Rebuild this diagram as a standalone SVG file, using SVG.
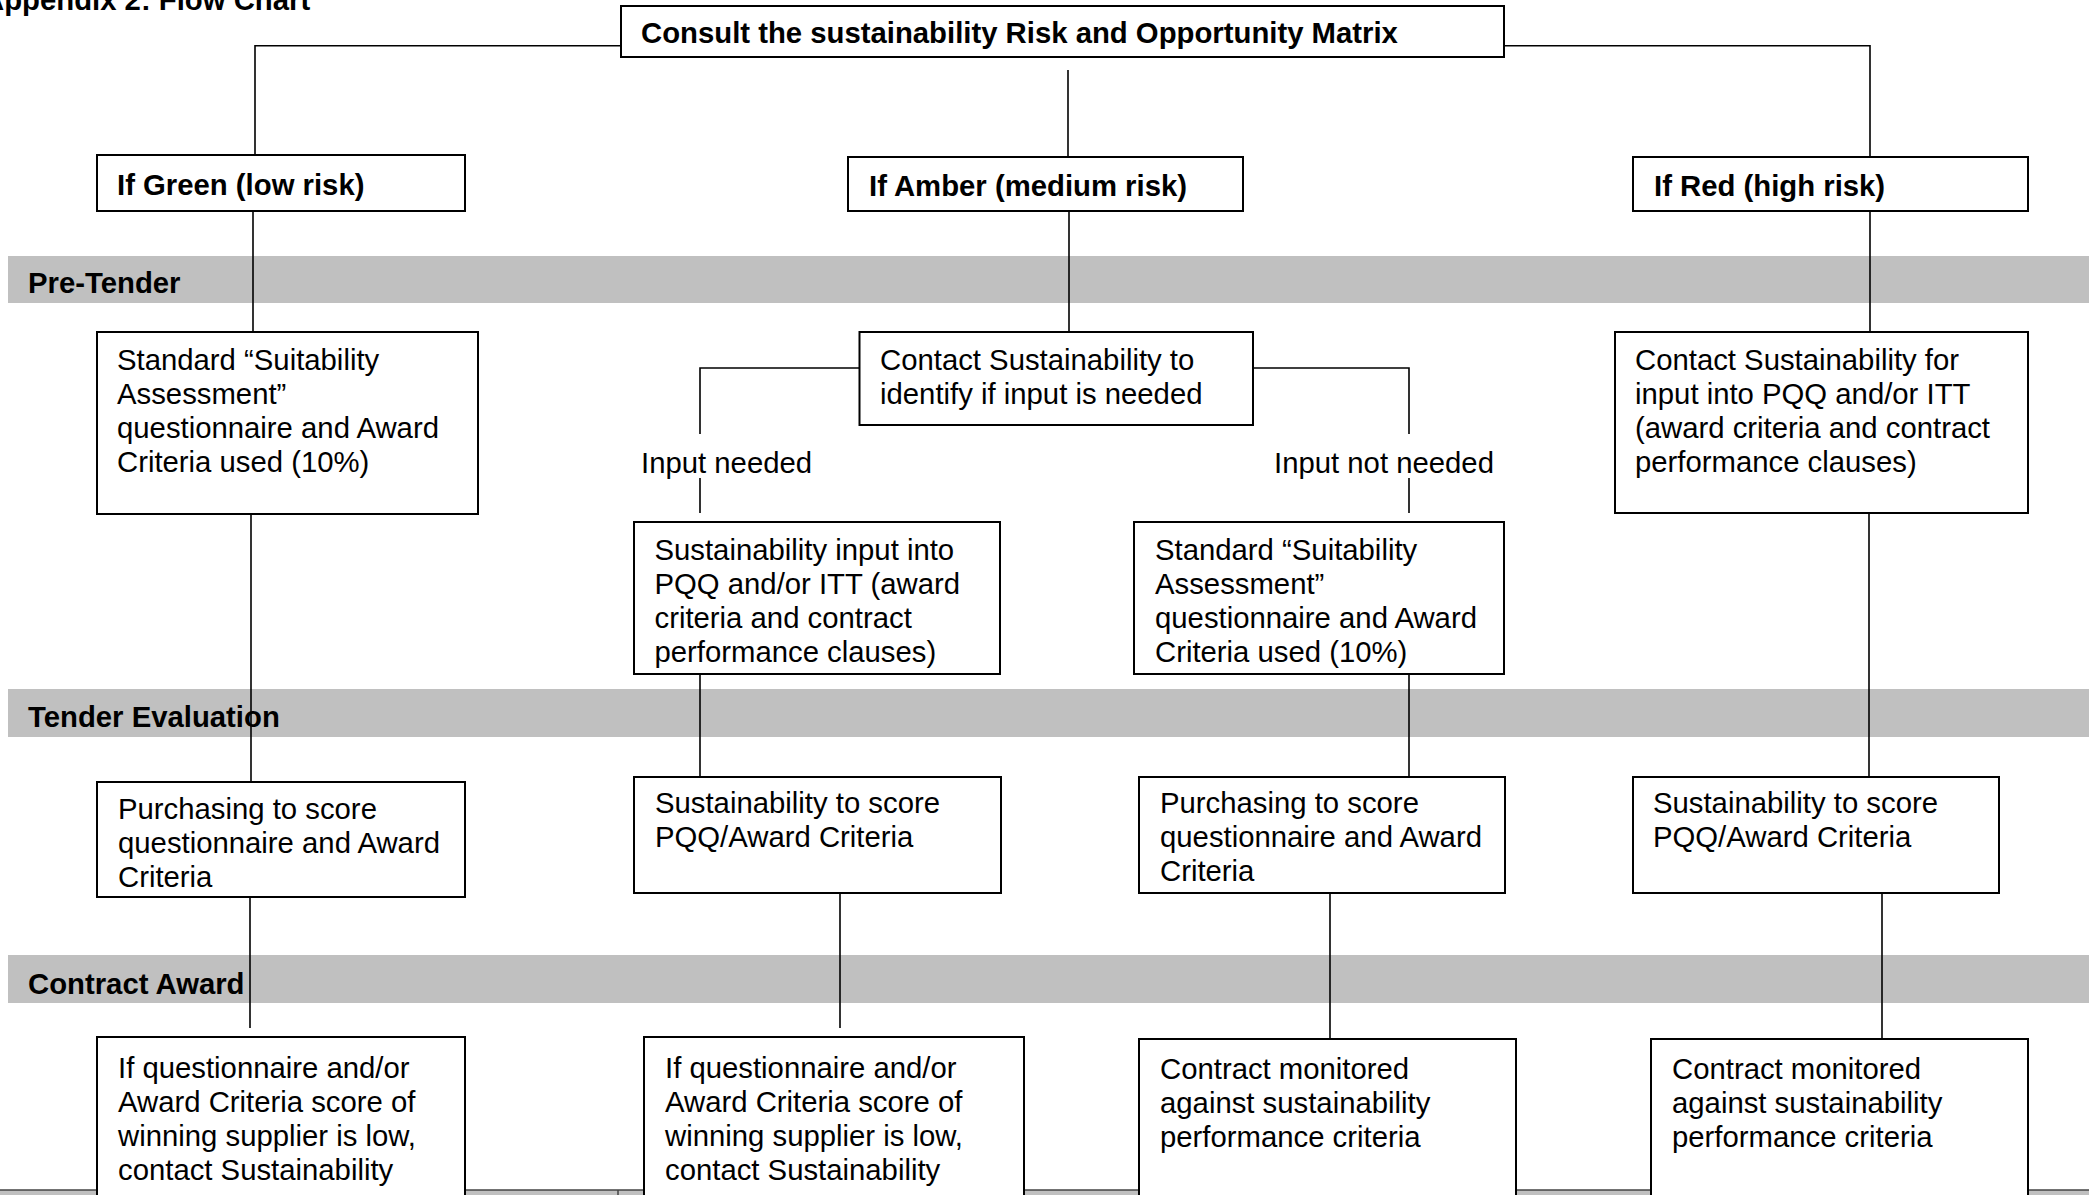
<svg xmlns="http://www.w3.org/2000/svg" width="2089" height="1195" viewBox="0 0 2089 1195">
<style>
text{font-family:"Liberation Sans",Arial,sans-serif;font-size:29.3px;fill:#000}
.b{font-weight:bold}
.box{fill:#fff;stroke:#000;stroke-width:2}
.band{fill:#c0c0c0}
.c{fill:none;stroke:#000;stroke-width:1.6}
</style>
<rect width="2089" height="1195" fill="#fff"/>
<g id="bands">
<rect class="band" x="8" y="256" width="2081" height="47"/>
<text class="b" x="28" y="293">Pre-Tender</text>
<rect class="band" x="8" y="689" width="2081" height="48"/>
<text class="b" x="28" y="727">Tender Evaluation</text>
<rect class="band" x="8" y="955" width="2081" height="48"/>
<text class="b" x="28" y="994">Contract Award</text>
<rect class="band" x="0" y="1190" width="2089" height="5"/>
<line x1="0" y1="1190" x2="2089" y2="1190" stroke="#444" stroke-width="1.5"/>
<line x1="618" y1="1190" x2="618" y2="1195" stroke="#444" stroke-width="1.5"/>
</g>
<text id="title" class="b" x="-17" y="10">Appendix 2: Flow Chart</text>
<g id="connectors">
<path class="c" d="M621,45.7 H255 V155"/>
<path class="c" d="M1068,70 V166"/>
<path class="c" d="M1504,45.7 H1870 V157"/>
<path class="c" d="M253,211 V332"/>
<path class="c" d="M1069,211 V332"/>
<path class="c" d="M1870,211 V332"/>
<path class="c" d="M859.5,368 H700 V434 M700,478 V513"/>
<path class="c" d="M1253,368 H1409 V434 M1409,478 V513"/>
<path class="c" d="M251,514 V782"/>
<path class="c" d="M700,674 V777"/>
<path class="c" d="M1409,674 V777"/>
<path class="c" d="M1869,513 V781"/>
<path class="c" d="M250,897 V1028"/>
<path class="c" d="M840,893 V1028"/>
<path class="c" d="M1330,893 V1038"/>
<path class="c" d="M1882,893 V1038"/>
<text x="641" y="473">Input needed</text>
<text x="1274" y="473">Input not needed</text>
</g>
<g id="consult">
<rect class="box" x="621" y="6" width="883" height="51"/>
<text class="b" x="641" y="43">Consult the sustainability Risk and Opportunity Matrix</text>
</g>
<g id="green">
<rect class="box" x="97" y="155" width="368" height="56"/>
<text class="b" x="117" y="195">If Green (low risk)</text>
</g>
<g id="amber">
<rect class="box" x="848" y="157" width="395" height="54"/>
<text class="b" x="869" y="196">If Amber (medium risk)</text>
</g>
<g id="red">
<rect class="box" x="1633" y="157" width="395" height="54"/>
<text class="b" x="1654" y="196">If Red (high risk)</text>
</g>
<g id="standard1">
<rect class="box" x="97" y="332" width="381" height="182"/>
<text x="117" y="370">Standard “Suitability</text>
<text x="117" y="404">Assessment”</text>
<text x="117" y="438">questionnaire and Award</text>
<text x="117" y="472">Criteria used (10%)</text>
</g>
<g id="contact">
<rect class="box" x="859.5" y="332" width="393.5" height="93"/>
<text x="880" y="370">Contact Sustainability to</text>
<text x="880" y="404">identify if input is needed</text>
</g>
<g id="redcontact">
<rect class="box" x="1615" y="332" width="413" height="181"/>
<text x="1635" y="370">Contact Sustainability for</text>
<text x="1635" y="404">input into PQQ and/or ITT</text>
<text x="1635" y="438">(award criteria and contract</text>
<text x="1635" y="472">performance clauses)</text>
</g>
<g id="sustinput">
<rect class="box" x="634" y="522" width="366" height="152"/>
<text x="654.5" y="559.5">Sustainability input into</text>
<text x="654.5" y="593.5">PQQ and/or ITT (award</text>
<text x="654.5" y="627.5">criteria and contract</text>
<text x="654.5" y="661.5">performance clauses)</text>
</g>
<g id="standard2">
<rect class="box" x="1134" y="522" width="370" height="152"/>
<text x="1155" y="559.5">Standard “Suitability</text>
<text x="1155" y="593.5">Assessment”</text>
<text x="1155" y="627.5">questionnaire and Award</text>
<text x="1155" y="661.5">Criteria used (10%)</text>
</g>
<g id="purchasing1">
<rect class="box" x="97" y="782" width="368" height="115"/>
<text x="118" y="819">Purchasing to score</text>
<text x="118" y="853">questionnaire and Award</text>
<text x="118" y="887">Criteria</text>
</g>
<g id="sustscore1">
<rect class="box" x="634" y="777" width="367" height="116"/>
<text x="655" y="813">Sustainability to score</text>
<text x="655" y="847">PQQ/Award Criteria</text>
</g>
<g id="purchasing2">
<rect class="box" x="1139" y="777" width="366" height="116"/>
<text x="1160" y="813">Purchasing to score</text>
<text x="1160" y="847">questionnaire and Award</text>
<text x="1160" y="881">Criteria</text>
</g>
<g id="sustscore2">
<rect class="box" x="1633" y="777" width="366" height="116"/>
<text x="1653" y="813">Sustainability to score</text>
<text x="1653" y="847">PQQ/Award Criteria</text>
</g>
<g id="award1">
<rect class="box" x="97" y="1037" width="368" height="200"/>
<text x="118" y="1078">If questionnaire and/or</text>
<text x="118" y="1112">Award Criteria score of</text>
<text x="118" y="1146">winning supplier is low,</text>
<text x="118" y="1180">contact Sustainability</text>
</g>
<g id="award2">
<rect class="box" x="644" y="1037" width="380" height="200"/>
<text x="665" y="1078">If questionnaire and/or</text>
<text x="665" y="1112">Award Criteria score of</text>
<text x="665" y="1146">winning supplier is low,</text>
<text x="665" y="1180">contact Sustainability</text>
</g>
<g id="monitor1">
<rect class="box" x="1139" y="1039" width="377" height="200"/>
<text x="1160" y="1079">Contract monitored</text>
<text x="1160" y="1113">against sustainability</text>
<text x="1160" y="1147">performance criteria</text>
</g>
<g id="monitor2">
<rect class="box" x="1651" y="1039" width="377" height="200"/>
<text x="1672" y="1079">Contract monitored</text>
<text x="1672" y="1113">against sustainability</text>
<text x="1672" y="1147">performance criteria</text>
</g>
</svg>
